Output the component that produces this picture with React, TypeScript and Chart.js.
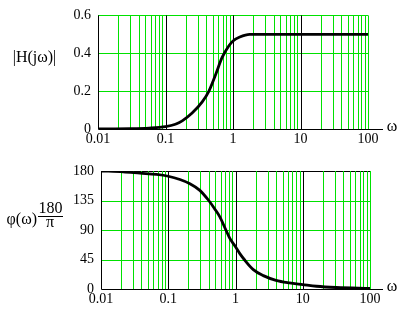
import React, { useEffect, useRef } from "react";
import { Chart, registerables } from "chart.js";
Chart.register(...registerables);

// ---- data ----
const omegaMag = [0.01, 0.03, 0.057, 0.1, 0.14, 0.177, 0.248, 0.35, 0.44, 0.55, 0.69, 0.87, 1, 1.26, 1.77, 3, 10, 100];
const magValues = [0.001, 0.002, 0.005, 0.0125, 0.025, 0.043, 0.084, 0.143, 0.2, 0.285, 0.378, 0.44, 0.465, 0.486, 0.5, 0.5, 0.5, 0.5];

const omegaPhase = [0.01, 0.0214, 0.038, 0.067, 0.1, 0.149, 0.21, 0.295, 0.4, 0.5, 0.585, 0.72, 0.82, 1, 1.16, 1.35, 1.84, 2.59, 4.0, 6.3, 10, 16, 31.6, 100];
const phaseValues = [180, 178.8, 176.7, 174.7, 172, 167, 160.6, 150.5, 135, 121, 110, 90, 77.5, 64.5, 54, 45, 29.5, 20.4, 13.3, 9.4, 6.8, 4.2, 2.3, 0.8];

const xDecades = [0.01, 0.1, 1, 10, 100];
const xTickLabels = ["0.01", "0.1", "1", "10", "100"];
const magTicks = [0, 0.2, 0.4, 0.6];
const magTickLabels = ["0", "0.2", "0.4", "0.6"];
const phaseTicks = [0, 45, 90, 135, 180];
const phaseTickLabels = ["0", "45", "90", "135", "180"];

const xGridValues: number[] = [];
for (let d = 0; d < 4; d++) {
  for (let k = 1; k <= 9; k++) xGridValues.push(Number((xDecades[d] * k).toPrecision(6)));
}
xGridValues.push(100);

const GREEN = "rgb(0,225,0)";
const FONT = "'Liberation Serif'";

function isDecade(v: number) {
  return xDecades.findIndex((d) => Math.abs(d - v) / d < 1e-6);
}

type Cfg = {
  xs: number[];
  ys: number[];
  yTicks: number[];
  yLabels: string[];
  yMax: number;
  topPad: number;
  rightPad: number;
  yWidth: number;
  xHeight: number;
  topLineBlack: boolean;
  drawTitle: (ctx: CanvasRenderingContext2D) => void;
};

function makeChart(canvas: HTMLCanvasElement, c: Cfg) {
  const gridPlugin = {
    id: "customGrid",
    beforeDatasetsDraw(chart: any) {
      const ctx = chart.ctx as CanvasRenderingContext2D;
      const a = chart.chartArea;
      const xs = chart.scales.x;
      const ys = chart.scales.y;
      ctx.save();
      ctx.lineWidth = 1;
      // horizontal grid lines
      c.yTicks.forEach((v) => {
        if (v === 0) return;
        const py = Math.round(ys.getPixelForValue(v)) + 0.5;
        ctx.strokeStyle = v === c.yMax && c.topLineBlack ? "#000" : GREEN;
        ctx.beginPath();
        ctx.moveTo(a.left, py);
        ctx.lineTo(a.right, py);
        ctx.stroke();
      });
      // vertical minor (green) then decades (black)
      const pass = (black: boolean) => {
        xGridValues.forEach((v) => {
          if (Math.abs(v - 0.01) < 1e-9) return;
          const dec = isDecade(v) >= 0 && Math.abs(v - 100) > 1e-6;
          if (dec !== black) return;
          const px = Math.round(xs.getPixelForValue(v)) + 0.5;
          ctx.strokeStyle = black ? "#000" : GREEN;
          ctx.beginPath();
          ctx.moveTo(px, a.top);
          ctx.lineTo(px, a.bottom);
          ctx.stroke();
        });
      };
      pass(false);
      pass(true);
      // axes
      ctx.strokeStyle = "#000";
      const lx = Math.round(a.left) + 0.5;
      const by = Math.round(a.bottom) + 0.5;
      ctx.beginPath();
      ctx.moveTo(lx, a.top);
      ctx.lineTo(lx, by);
      ctx.lineTo(383, by);
      ctx.stroke();
      ctx.restore();
    },
    afterDraw(chart: any) {
      const ctx = chart.ctx as CanvasRenderingContext2D;
      const a = chart.chartArea;
      ctx.save();
      ctx.fillStyle = "#000";
      ctx.font = `16px ${FONT}`;
      ctx.textAlign = "center";
      ctx.textBaseline = "middle";
      ctx.fillText("ω", 392, a.bottom - 2);
      c.drawTitle(ctx);
      ctx.restore();
    },
  };
  return new Chart(canvas, {
    type: "line",
    data: {
      datasets: [
        {
          data: c.xs.map((x, i) => ({ x, y: c.ys[i] })),
          borderColor: "#000",
          borderWidth: 2.8,
          pointRadius: 0,
          fill: false,
          cubicInterpolationMode: "monotone",
        },
      ],
    },
    options: {
      animation: false,
      responsive: false,
      devicePixelRatio: 1,
      layout: { padding: { top: c.topPad, right: c.rightPad, left: 0, bottom: 0 } },
      plugins: { legend: { display: false }, tooltip: { enabled: false } },
      scales: {
        x: {
          type: "logarithmic",
          min: 0.01,
          max: 100,
          afterBuildTicks: (s: any) => {
            s.ticks = xDecades.map((v) => ({ value: v }));
          },
          afterFit: (s: any) => {
            s.height = c.xHeight;
          },
          ticks: {
            autoSkip: false,
            maxRotation: 0,
            minRotation: 0,
            padding: 2,
            color: "#000",
            font: { family: FONT, size: 14 },
            callback: (v: any) => {
              const i = isDecade(Number(v));
              return i >= 0 ? xTickLabels[i] : "";
            },
          },
          grid: { display: false, drawTicks: false },
          border: { display: false },
        },
        y: {
          min: 0,
          max: c.yMax,
          afterBuildTicks: (s: any) => {
            s.ticks = c.yTicks.map((v) => ({ value: v }));
          },
          afterFit: (s: any) => {
            s.width = c.yWidth;
          },
          ticks: {
            padding: 7,
            color: "#000",
            font: { family: FONT, size: 14 },
            callback: (v: any) => {
              const i = c.yTicks.findIndex((t) => Math.abs(t - Number(v)) < 1e-9);
              return i >= 0 ? c.yLabels[i] : "";
            },
          },
          grid: { display: false, drawTicks: false },
          border: { display: false },
        },
      },
    } as any,
    plugins: [gridPlugin],
  });
}

export default function App() {
  const topRef = useRef<HTMLCanvasElement>(null);
  const botRef = useRef<HTMLCanvasElement>(null);

  useEffect(() => {
    const top = makeChart(topRef.current!, {
      xs: omegaMag,
      ys: magValues,
      yTicks: magTicks,
      yLabels: magTickLabels,
      yMax: 0.6,
      topPad: 9,
      rightPad: 40,
      yWidth: 98,
      xHeight: 21,
      topLineBlack: false,
      drawTitle: (ctx) => {
        ctx.font = `16px ${FONT}`;
        ctx.textAlign = "center";
        ctx.textBaseline = "middle";
        ctx.fillText("|H(jω)|", 34.5, 58);
      },
    });
    const bot = makeChart(botRef.current!, {
      xs: omegaPhase,
      ys: phaseValues,
      yTicks: phaseTicks,
      yLabels: phaseTickLabels,
      yMax: 180,
      topPad: 21,
      rightPad: 38,
      yWidth: 101,
      xHeight: 22,
      topLineBlack: true,
      drawTitle: (ctx) => {
        ctx.font = `16px ${FONT}`;
        ctx.textBaseline = "middle";
        ctx.textAlign = "right";
        ctx.fillText("φ(ω)", 37, 70);
        ctx.textAlign = "center";
        ctx.fillText("180", 50.5, 59);
        ctx.fillText("π", 50, 73);
        ctx.strokeStyle = "#000";
        ctx.lineWidth = 1;
        ctx.beginPath();
        ctx.moveTo(38, 66.5);
        ctx.lineTo(63, 66.5);
        ctx.stroke();
      },
    });
    return () => {
      top.destroy();
      bot.destroy();
    };
  }, []);

  return (
    <div style={{ position: "absolute", left: 0, top: 0, width: 408, height: 311, background: "#fff" }}>
      <canvas ref={topRef} width={408} height={150} style={{ position: "absolute", left: 0, top: 0 }} />
      <canvas ref={botRef} width={408} height={161} style={{ position: "absolute", left: 0, top: 150 }} />
    </div>
  );
}
